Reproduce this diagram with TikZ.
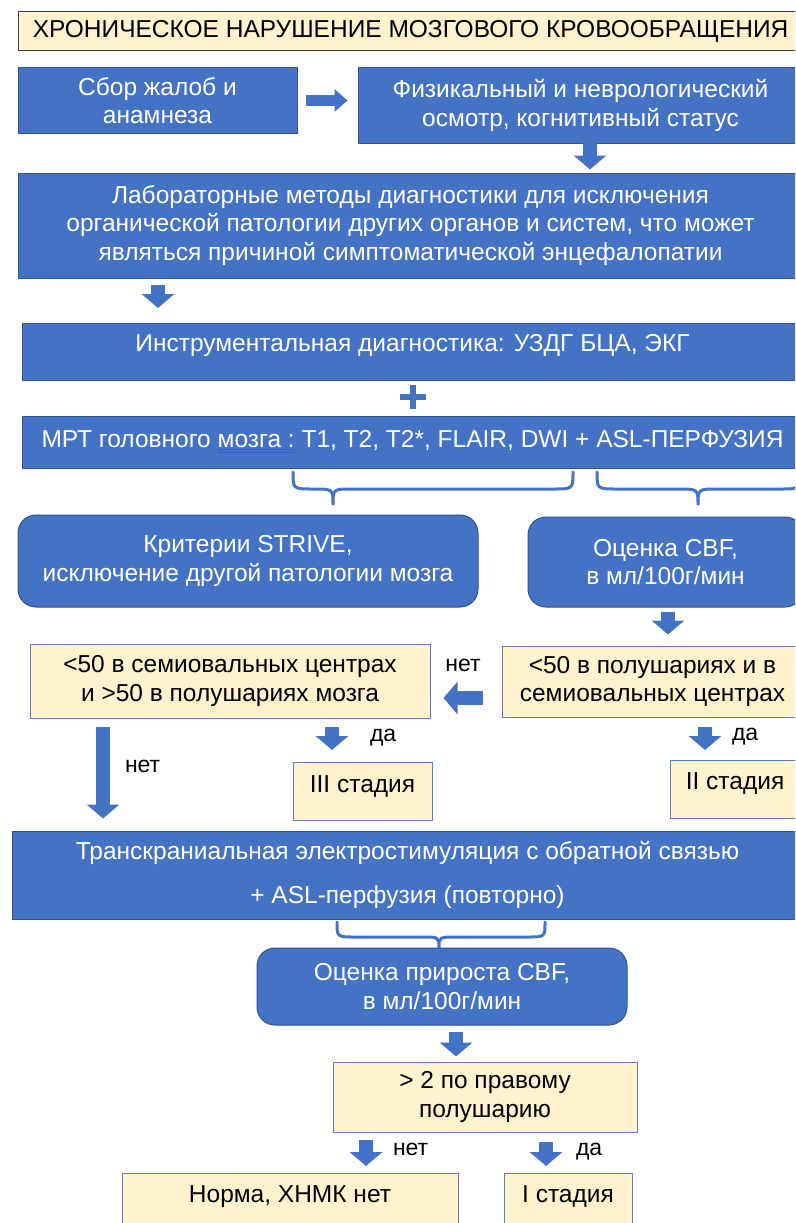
\documentclass[tikz,border=0pt]{standalone}
\usepackage{fontspec}
\setmainfont{Liberation Sans}
\usepackage{xcolor}
\usetikzlibrary{arrows.meta}

\definecolor{boxblue}{HTML}{4472C4}
\definecolor{edgeblue}{HTML}{2F528F}
\definecolor{paleyellow}{HTML}{FFF2CC}
\definecolor{yedge}{HTML}{5B7FC0}
\definecolor{titleedge}{HTML}{3A3A3A}
\definecolor{spellblue}{HTML}{2E5FD8}

\newcommand{\spellul}[1]{\sbox0{#1}\rlap{\color{spellblue}\rule[-2.5pt]{\wd0}{0.9pt}}\rlap{\color{spellblue}\rule[-5.5pt]{\wd0}{0.9pt}}\usebox0}

\tikzset{
	bluebox/.style={draw=edgeblue, fill=boxblue, text=white, line width=1pt, inner sep=0pt, align=center},
	roundbox/.style={bluebox, rounded corners=18pt},
	yellowbox/.style={draw=yedge, fill=paleyellow, text=black, line width=1pt, inner sep=0pt, align=center},
	blk/.style={draw=boxblue, line width=14pt, -{Triangle[width=32pt,length=14pt]}},
	brace/.style={draw=boxblue, line width=3pt, line cap=round},
	lbl/.style={inner sep=0pt, text=black, font=\fontsize{23pt}{27pt}\selectfont},
}

\begin{document}
\begin{tikzpicture}[x=1pt, y=-1pt, font=\fontsize{24.5pt}{28.5pt}\selectfont]
	\useasboundingbox (0,0) rectangle (795,1223);
	\clip (0,0) rectangle (795,1223);
	\fill[white] (0,0) rectangle (795,1223);

	\node[yellowbox, draw=titleedge, minimum width=785pt, minimum height=39pt] (head) at (410.5,31) {ХРОНИЧЕСКОЕ НАРУШЕНИЕ МОЗГОВОГО КРОВООБРАЩЕНИЯ};
	\node[bluebox, minimum width=279pt, minimum height=65pt] (collect) at (157.5,100.5) {Сбор жалоб и\\анамнеза};
	\node[bluebox, minimum width=445pt, minimum height=75pt] (phys) at (580.5,105.5) {Физикальный и неврологический\\осмотр, когнитивный статус};
	\node[bluebox, minimum width=785pt, minimum height=105pt] (lab) at (410.5,225.5) {Лабораторные методы диагностики для исключения\\органической патологии других органов и систем, что может\\являться причиной симптоматической энцефалопатии};
	\node[bluebox, anchor=north, minimum width=781pt, text height=28pt, text depth=29pt] (instr) at (412.5,323) {Инструментальная диагностика: УЗДГ БЦА, ЭКГ};
	\node[bluebox, anchor=north, minimum width=781pt, text height=31pt, text depth=21pt] (mri) at (412.5,416) {МРТ головного \spellul{мозга :} T1, T2, T2*, FLAIR, DWI + ASL-ПЕРФУЗИЯ};

	\node[roundbox, minimum width=460pt, minimum height=92pt] (strive) at (248,561) {Критерии STRIVE,\\исключение другой патологии мозга};
	\node[roundbox, minimum width=275pt, minimum height=90pt] (cbf) at (665.5,562) {Оценка CBF,\\в мл/100г/мин};

	\node[yellowbox, minimum width=400pt, minimum height=74pt] (lowl) at (230,681) {<50 в семиовальных центрах\\и >50 в полушариях мозга};
	\node[yellowbox, minimum width=301pt, minimum height=71pt] (lowb) at (652.5,681.5) {<50 в полушариях и в\\семиовальных центрах};
	\node[yellowbox, anchor=north, minimum width=139pt, text height=30pt, text depth=28pt] (st3) at (362.5,762) {III стадия};
	\node[yellowbox, anchor=north, minimum width=130pt, text height=29pt, text depth=29pt] (st2) at (735,760) {II стадия};

	\node[bluebox, minimum width=791pt, minimum height=88pt] (tcs) at (407.5,875) {Транскраниальная электростимуляция с обратной связью\\[16pt]+ ASL-перфузия (повторно)};
	\node[roundbox, minimum width=370pt, minimum height=77pt] (gain) at (442,986.5) {Оценка прироста CBF,\\в мл/100г/мин};
	\node[yellowbox, minimum width=304pt, minimum height=70pt] (gt2) at (485,1097) {> 2 по правому\\полушарию};
	\node[yellowbox, anchor=north, minimum width=336pt, text height=29pt, text depth=60pt] (norm) at (290,1173) {Норма, ХНМК нет};
	\node[yellowbox, anchor=north, minimum width=128pt, text height=29pt, text depth=60pt] (st1) at (568,1173) {I стадия};

	% braces and plus
	\draw[boxblue, line width=6pt] (400,397) -- (426,397) (413,385) -- (413,409);
	\draw[brace] (293,472) .. controls (293,489) .. (313,489) .. controls (333,489) .. (333,505) .. controls (333,489) .. (353,489) -- (553,489) .. controls (573,489) .. (573,472);
	\draw[brace] (597,472) .. controls (597,489) .. (617,489) -- (678,489) .. controls (698,489) .. (698,505) .. controls (698,489) .. (718,489) -- (780,489) .. controls (800,489) .. (800,472);
	\draw[brace] (337,922) .. controls (337,937) .. (355,937) -- (421,937) .. controls (439,937) .. (439,948) .. controls (439,937) .. (457,937) -- (527,937) .. controls (545,937) .. (545,922);

	% arrows
	\draw[blk, line width=11pt, -{Triangle[width=22pt,length=13pt]}, shorten <=8pt, shorten >=10pt] (collect.east) -- (collect.east -| phys.west);
	\coordinate (a1) at (590,143);
	\draw[blk, shorten >=3pt] (a1) -- (a1 |- lab.north);
	\coordinate (a2) at (158,285);
	\draw[blk, shorten >=15pt] (a2) -- (a2 |- instr.north);
	\coordinate (a3) at (668,612);
	\draw[blk, shorten >=11pt] (a3) -- (a3 |- lowb.north);
	\coordinate (a4) at (483,698);
	\draw[blk, shorten >=13pt] (a4) -- (a4 -| lowl.east) node[lbl, pos=0.38, above=19pt] {нет};
	\coordinate (a5) at (332,727);
	\draw[blk, shorten >=12pt] (a5) -- (a5 |- st3.north) node[lbl, pos=0.3, right=31pt] {да};
	\coordinate (a6) at (705,727);
	\draw[blk, shorten >=10pt] (a6) -- (a6 |- st2.north) node[lbl, pos=0.3, right=20pt] {да};
	\coordinate (a7) at (103,727);
	\draw[blk, shorten >=12pt] (a7) -- (a7 |- tcs.north) node[lbl, pos=0.38, right=15pt] {нет};
	\coordinate (a8) at (456,1032);
	\draw[blk, shorten >=5pt] (a8) -- (a8 |- gt2.north);
	\coordinate (a9) at (366,1140);
	\draw[blk, shorten >=7pt] (a9) -- (a9 |- norm.north) node[lbl, pos=0.3, right=20pt] {нет};
	\coordinate (a10) at (546,1142);
	\draw[blk, shorten >=7pt] (a10) -- (a10 |- st1.north) node[lbl, pos=0.3, right=23pt] {да};
\end{tikzpicture}
\end{document}
